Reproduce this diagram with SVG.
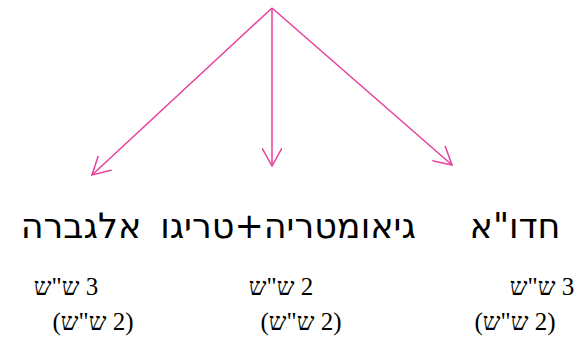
<svg xmlns="http://www.w3.org/2000/svg" width="576" height="360" viewBox="0 0 576 360">
<style>
.lbl{font-family:"DejaVu Sans","Liberation Sans",sans-serif;font-size:35px;fill:#000}
.sub{font-family:"Liberation Serif","Times New Roman",serif;font-size:25px;fill:#000}
.con{stroke:#E6409A;stroke-width:1.5;fill:none}
</style>
<defs>
<marker id="ah" viewBox="0 0 20 20" refX="18" refY="10" markerWidth="20" markerHeight="20" markerUnits="userSpaceOnUse" orient="auto">
<path d="M0,0 L18,10 L0,20" fill="none" stroke="#E6409A" stroke-width="1.5"/>
</marker>
</defs>
<rect width="576" height="360" fill="#fff"/>
<g id="connectors">
<line class="con" x1="272" y1="8" x2="92" y2="175" marker-end="url(#ah)"/>
<line class="con" x1="272" y1="8" x2="272" y2="166" marker-end="url(#ah)"/>
<line class="con" x1="272" y1="8" x2="452" y2="165" marker-end="url(#ah)"/>
</g>
<g id="algebra">
<text class="lbl" x="81" y="238" text-anchor="middle" direction="rtl">אלגברה</text>
<text class="sub" x="66" y="295" text-anchor="middle" direction="rtl">3 ש"ש</text>
<text class="sub" x="93" y="330" text-anchor="middle" direction="rtl">(2 ש"ש)</text>
</g>
<g id="geometry">
<text class="lbl" x="288" y="238" text-anchor="middle" direction="rtl">גיאומטריה+טריגו</text>
<text class="sub" x="281" y="295" text-anchor="middle" direction="rtl">2 ש"ש</text>
<text class="sub" x="301" y="330" text-anchor="middle" direction="rtl">(2 ש"ש)</text>
</g>
<g id="calculus">
<text class="lbl" x="515" y="238" text-anchor="middle" direction="rtl">חדו"א</text>
<text class="sub" x="542" y="295" text-anchor="middle" direction="rtl">3 ש"ש</text>
<text class="sub" x="515" y="330" text-anchor="middle" direction="rtl">(2 ש"ש)</text>
</g>
</svg>
